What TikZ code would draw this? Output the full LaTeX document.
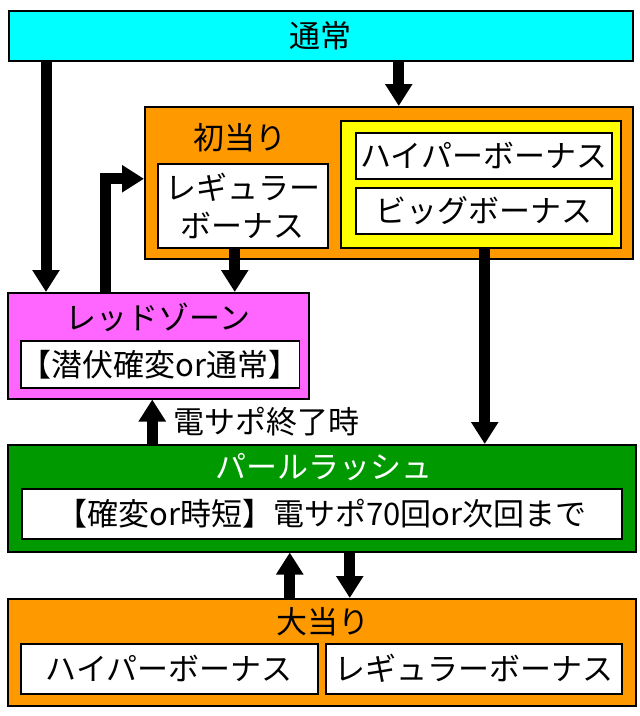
\documentclass[tikz,border=0pt]{standalone}
\usepackage{fontspec}
\newfontfamily\jpfont{Noto Sans CJK JP}
\usetikzlibrary{arrows.meta,calc}

\definecolor{tsujocol}{RGB}{0,255,255}
\definecolor{atarcol}{RGB}{255,153,0}
\definecolor{bigcol}{RGB}{255,255,0}
\definecolor{redcol}{RGB}{255,102,255}
\definecolor{pearlcol}{RGB}{0,153,0}

\tikzset{
  box/.style={draw=black, line width=1.5pt, inner sep=0pt, anchor=north west, align=center},
  wbox/.style={box, fill=white},
  flow/.style={line width=11pt, -{Triangle[width=26pt,length=22pt]}},
}

\begin{document}
\begin{tikzpicture}[x=1pt,y=-1pt,font=\jpfont\fontsize{31}{38}\selectfont]
      \useasboundingbox (0,0) rectangle (640,716);

      % 通常
      \node[box, fill=tsujocol, minimum width=624pt, minimum height=50pt] (tsujo) at (8,10) {通常};

      % 初当り
      \node[box, fill=atarcol, minimum width=488pt, minimum height=152pt] (hatsu) at (144,106) {};
      \node (hatsulbl) at (240,138) {初当り};
      \node[wbox, minimum width=170pt, minimum height=84pt] (reg1) at (157,163) {レギュラー\\ボーナス};
      \node[box, fill=bigcol, minimum width=280pt, minimum height=127pt] (bigbox) at (340,120) {};
      \node[wbox, minimum width=256pt, minimum height=46pt] (hyper1) at (355,132) {ハイパーボーナス};
      \node[wbox, minimum width=256pt, minimum height=46pt] (big1) at (355,187) {ビッグボーナス};

      % レッドゾーン
      \node[box, fill=redcol, minimum width=301pt, minimum height=106pt] (red) at (7,292) {};
      \node (redlbl) at (158,317) {レッドゾーン};
      \node[wbox, minimum width=276pt, minimum height=47pt] (redin) at (20,340) {【潜伏確変or通常】};

      % パールラッシュ
      \node[box, fill=pearlcol, minimum width=628pt, minimum height=107pt] (pearl) at (7,444) {};
      \node[text=white] (pearllbl) at (324,467) {パールラッシュ};
      \node[wbox, minimum width=600pt, minimum height=50pt] (pearlin) at (21,488) {【確変or時短】電サポ70回or次回まで};

      % 大当り
      \node[box, fill=atarcol, minimum width=628pt, minimum height=107pt] (oo) at (7,598) {};
      \node (oolbl) at (323,622) {大当り};
      \node[wbox, minimum width=297pt, minimum height=50pt] (hyper2) at (20,643) {ハイパーボーナス};
      \node[wbox, minimum width=296pt, minimum height=50pt] (reg2) at (325,643) {レギュラーボーナス};

      \draw[flow] ([xshift=10pt]hatsu.north |- tsujo.south) -- ([xshift=10pt]hatsu.north);
      \draw[flow] ([xshift=38pt]tsujo.south west) -- ([xshift=38pt]tsujo.south west |- red.north);
      \draw[flow] ([xshift=-8pt]reg1.south) -- ([xshift=-8pt]reg1.south |- red.north);
      \draw[flow] ([xshift=-53pt]red.north) |- ([yshift=4pt]hatsu.west);
      \draw[flow] ([xshift=4pt]bigbox.south) -- ([xshift=4pt]bigbox.south |- pearl.north);
      \draw[flow] ([xshift=-6pt]red.south |- pearl.north) -- ([xshift=-6pt]red.south);
      \node[anchor=west] (owari) at (170,422) {電サポ終了時};
      \draw[flow] ([xshift=-32pt]pearl.south |- oo.north) -- ([xshift=-32pt]pearl.south);
      \draw[flow] ([xshift=28pt]pearl.south) -- ([xshift=28pt]pearl.south |- oo.north);
\end{tikzpicture}
\end{document}
